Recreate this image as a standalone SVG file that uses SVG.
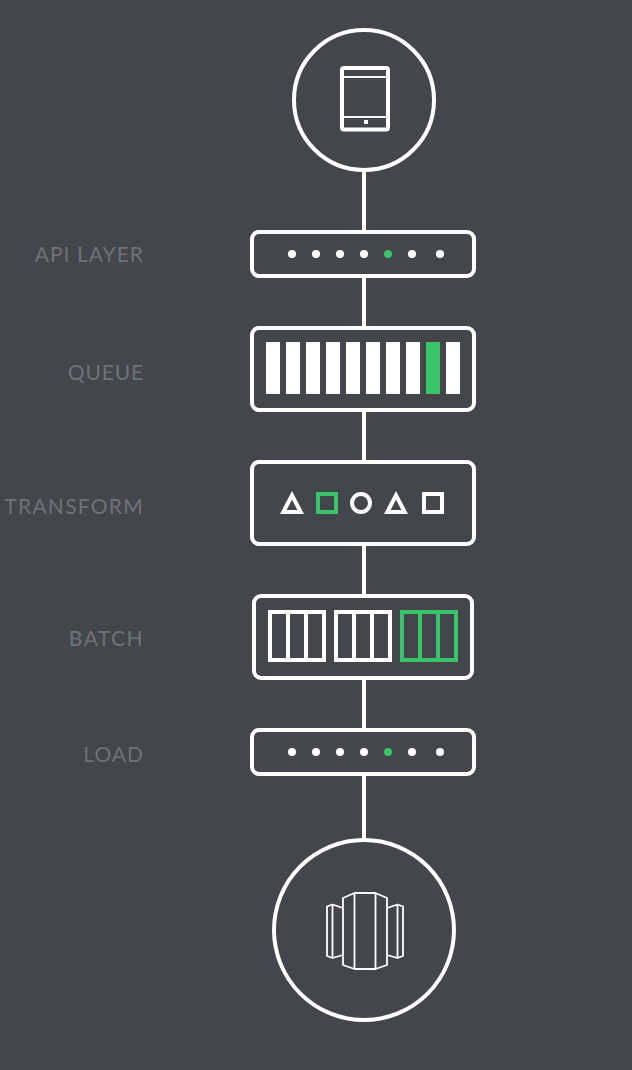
<svg xmlns="http://www.w3.org/2000/svg" width="632" height="1070" viewBox="0 0 632 1070">
<defs>
<style>
.box{fill:#43464b;stroke:#fff;stroke-width:4}
.ln{fill:none;stroke:#fff;stroke-width:4}
.gln{fill:none;stroke:#3cc46a;stroke-width:4}
.thin{fill:none;stroke:#fff;stroke-width:1.8;stroke-linejoin:round}
.w{fill:#fff}
.g{fill:#3cc46a}
.lbl{font-family:Lato,"Open Sans",sans-serif;font-size:21px;letter-spacing:1.25px;fill:#6f7277;text-anchor:end}
</style>
<g id="dots"><circle class="w" cx="292" cy="0" r="4"/><circle class="w" cx="316" cy="0" r="4"/><circle class="w" cx="340" cy="0" r="4"/><circle class="w" cx="364" cy="0" r="4"/><circle class="g" cx="388" cy="0" r="4"/><circle class="w" cx="412" cy="0" r="4"/><circle class="w" cx="440" cy="0" r="4"/></g>
<g id="cells"><rect x="2" y="2" width="54" height="48"/><path d="M20 2V50M38 2V50"/></g>
</defs>
<rect width="632" height="1070" fill="#43464b"/>
<g id="connectors" class="ln">
<path d="M364 170V232M364 276V328M364 410V462M364 544V596M364 678V730M364 774V840"/>
</g>
<g id="source">
<circle class="ln" cx="364" cy="100" r="70"/>
<rect class="ln" x="342" y="68" width="46" height="61.500" rx="2"/>
<path fill="none" stroke="#fff" stroke-width="2" d="M342 77H388M342 117H388"/>
<rect class="w" x="364" y="120" width="4" height="4"/>
</g>
<g id="api-layer">
<text class="lbl" x="144" y="262" style="letter-spacing:1.03px">API LAYER</text>
<rect class="box" x="252" y="232" width="222" height="44" rx="7"/>
<use href="#dots" y="254"/>
</g>
<g id="queue">
<text class="lbl" x="144" y="380" style="letter-spacing:.85px">QUEUE</text>
<rect class="box" x="252" y="328" width="222" height="82" rx="7"/>
<rect class="w" x="266" y="342" width="14" height="52"/><rect class="w" x="286" y="342" width="14" height="52"/><rect class="w" x="306" y="342" width="14" height="52"/><rect class="w" x="326" y="342" width="14" height="52"/><rect class="w" x="346" y="342" width="14" height="52"/><rect class="w" x="366" y="342" width="14" height="52"/><rect class="w" x="386" y="342" width="14" height="52"/><rect class="w" x="406" y="342" width="14" height="52"/><rect class="g" x="426" y="342" width="14" height="52"/><rect class="w" x="446" y="342" width="14" height="52"/>
</g>
<g id="transform">
<text class="lbl" x="144" y="514">TRANSFORM</text>
<rect class="box" x="252" y="462" width="222" height="82" rx="7"/>
<path class="ln" d="M283.300 512H300.700L292 495.300Z"/>
<rect class="gln" x="318" y="494" width="18" height="18"/>
<circle class="ln" cx="361" cy="503" r="9"/>
<path class="ln" d="M387.300 512H404.700L396 495.300Z"/>
<rect class="ln" x="424" y="494" width="18" height="18"/>
</g>
<g id="batch">
<text class="lbl" x="144" y="646" style="letter-spacing:1.45px">BATCH</text>
<rect class="box" x="254" y="596" width="218" height="82" rx="7"/>
<use href="#cells" class="ln" x="268" y="610"/>
<use href="#cells" class="ln" x="334" y="610"/>
<use href="#cells" class="gln" x="400" y="610"/>
</g>
<g id="load">
<text class="lbl" x="144" y="762" style="letter-spacing:1px">LOAD</text>
<rect class="box" x="252" y="730" width="222" height="44" rx="7"/>
<use href="#dots" y="752"/>
</g>
<g id="warehouse">
<circle class="ln" cx="364" cy="930" r="90"/>
<path class="thin" d="M343 898L354.500 893H375.500L387 898V965L375.500 969H354.500L343 965ZM354.500 893V969M375.500 893V969"/>
<path class="thin" d="M343 908L332.500 904.500L327 906.500V956L332.500 958L343 955M332.500 904.500V958"/>
<path class="thin" d="M387 908L397.500 904.500L403 906.500V956L397.500 958L387 955M397.500 904.500V958"/>
</g>
</svg>
